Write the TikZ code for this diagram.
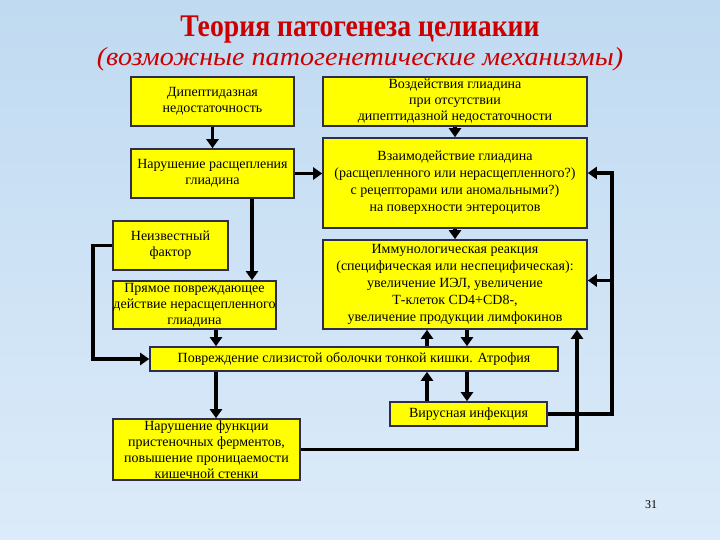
\documentclass[tikz,border=0pt]{standalone}
\usepackage{fontspec}
\setmainfont{Liberation Serif}
\usetikzlibrary{arrows.meta}
\definecolor{boxyellow}{RGB}{255,255,0}
\definecolor{boxrim}{RGB}{45,45,80}
\definecolor{titlered}{RGB}{205,0,0}
\definecolor{skytop}{RGB}{192,218,241}
\definecolor{skybottom}{RGB}{220,235,249}

\begin{document}
\begin{tikzpicture}[x=1pt, y=-1pt,
  box/.style={draw=boxrim, line width=1.6pt, fill=boxyellow, inner sep=0pt,
    align=center, font=\fontsize{14}{16}\selectfont},
  tallbox/.style={box, font=\fontsize{14}{17}\selectfont},
  flow/.style={line width=3.8pt, -{Triangle[length=9pt,width=12pt]}},
  link/.style={line width=3.8pt}]

% Sky background
\useasboundingbox (0,0) rectangle (720,540);
\shade[top color=skytop, bottom color=skybottom] (0,0) rectangle (720,540);

% Title
\node[text=titlered, anchor=base, font=\fontsize{31.5}{34}\selectfont\bfseries] (head) at (360,37) {\scalebox{0.88}[1]{Теория патогенеза целиакии}};
\node[text=titlered, anchor=base, font=\fontsize{26}{30}\selectfont\itshape] (subhead) at (360,66) {\scalebox{1.08}[1]{(возможные патогенетические механизмы)}};

% Left column
\node[box, minimum width=163pt, minimum height=49pt] (dipep) at (212.5,101.5) {Дипептидазная\\недостаточность};
\node[box, minimum width=163pt, minimum height=49pt] (split) at (212.5,173.5) {Нарушение расщепления\\глиадина};
\node[box, minimum width=115pt, minimum height=49pt] (unknown) at (170.5,245.5) {Неизвестный\\фактор};
\node[box, minimum width=163pt, minimum height=48pt] (direct) at (194.5,305) {Прямое повреждающее\\действие нерасщепленного\\глиадина};

% Right column
\node[box, minimum width=264pt, minimum height=49pt] (gliadin) at (455,101.5) {Воздействия глиадина\\при отсутствии\\дипептидазной недостаточности};
\node[tallbox, minimum width=264pt, minimum height=90pt] (receptor) at (455,183) {Взаимодействие глиадина\\(расщепленного или нерасщепленного?)\\с рецепторами или аномальными?)\\на поверхности энтероцитов};
\node[tallbox, minimum width=264pt, minimum height=89pt] (immune) at (455,284.5) {Иммунологическая реакция\\(специфическая или неспецифическая):\\увеличение ИЭЛ, увеличение\\Т-клеток CD4+CD8-,\\увеличение продукции лимфокинов};

% Bottom
\node[box, minimum width=408pt, minimum height=24pt] (atrophy) at (354,359) {Повреждение слизистой оболочки тонкой кишки. Атрофия};
\node[box, minimum width=157pt, minimum height=24pt] (virus) at (468.5,414) {Вирусная инфекция};
\node[box, minimum width=187pt, minimum height=61pt] (wall) at (206.5,449.5) {Нарушение функции\\пристеночных ферментов,\\повышение проницаемости\\кишечной стенки};

\node[font=\fontsize{12}{14}\selectfont] (pagenum) at (651,505) {31};

% Rails
\coordinate (lrail) at (93,0);
\coordinate (splitcol) at (252,0);
\coordinate (leftcol) at (216,0);
\coordinate (upcol) at (427,0);
\coordinate (downcol) at (467,0);
\coordinate (jrail) at (577,0);
\coordinate (rrail) at (612,0);

\draw[flow] (dipep) -- (split);
\draw[flow] (split.east) -- (split.east -| receptor.west);
\draw[flow] (splitcol |- split.south) -- (splitcol |- direct.north);
\draw[flow] (gliadin) -- (receptor);
\draw[flow] (receptor) -- (immune);
\draw[flow] (leftcol |- direct.south) -- (leftcol |- atrophy.north);
\draw[flow] (unknown.west) -| (lrail |- atrophy.west) -- (atrophy.west);

\draw[flow] (downcol |- immune.south) -- (downcol |- atrophy.north);
\draw[flow] (upcol |- atrophy.north) -- (upcol |- immune.south);
\draw[flow] (downcol |- atrophy.south) -- (downcol |- virus.north);
\draw[flow] (upcol |- virus.north) -- (upcol |- atrophy.south);
\draw[flow] (leftcol |- atrophy.south) -- (leftcol |- wall.north);

\draw[flow] (virus.east) -| ([yshift=10pt]receptor.east -| rrail) -- ([yshift=10pt]receptor.east);
\draw[flow] ([yshift=4pt]immune.east -| rrail) -- ([yshift=4pt]immune.east);
\draw[flow] (wall.east) -| (jrail |- immune.south);

\end{tikzpicture}
\end{document}
